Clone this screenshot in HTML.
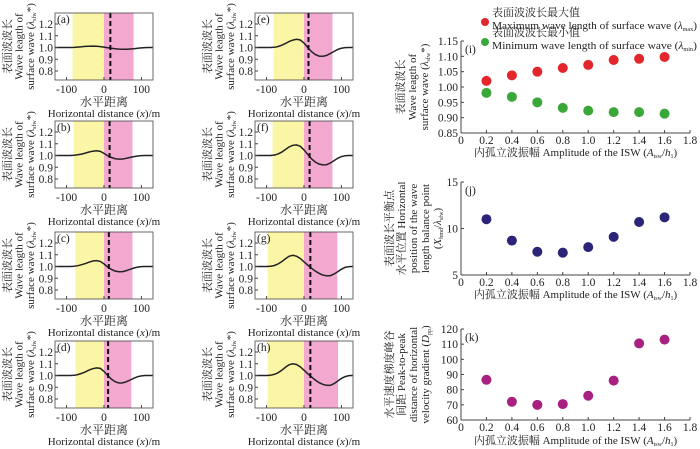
<!DOCTYPE html>
<html><head><meta charset="utf-8"><style>
html,body{margin:0;padding:0;background:#fff}
svg{display:block}
text{font-family:"Liberation Serif","Noto Serif CJK SC",serif;fill:#222}
</style></head><body>
<svg id="fig" width="700" height="449" viewBox="0 0 700 449" xmlns="http://www.w3.org/2000/svg" font-family="Liberation Serif, Noto Serif CJK SC, serif">
</svg>
<script>
const xSamples=[-140,-130,-120,-110,-100,-90,-80,-70,-60,-50,-40,-30,-20,-10,0,10,20,30,40,50,60,70,80,90,100,110,120,130,140];
const curveA=[1,1,1,1,1,1,1.001,1.003,1.006,1.009,1.011,1.012,1.011,1.008,1.003,0.998,0.993,0.989,0.986,0.985,0.985,0.987,0.99,0.994,0.997,0.999,1,1,1];
const curveB=[1,1,1,1,1,1,1.002,1.006,1.012,1.02,1.03,1.037,1.04,1.035,1.018,0.998,0.983,0.973,0.969,0.97,0.976,0.984,0.991,0.996,0.999,1,1,1,1];
const curveC=[1,1,1,1,1,1,1.002,1.007,1.015,1.025,1.037,1.047,1.05,1.043,1.022,0.995,0.975,0.961,0.955,0.957,0.965,0.976,0.987,0.995,0.999,1,1,1,1];
const curveD=[1,1,1,1,1,1,1.002,1.008,1.018,1.031,1.046,1.058,1.065,1.06,1.035,1.0,0.968,0.947,0.936,0.937,0.947,0.962,0.977,0.99,0.997,1,1,1,1];
const curveE=[1,1,1,1,1,1,1.002,1.008,1.019,1.033,1.05,1.063,1.07,1.064,1.038,1.0,0.965,0.94,0.927,0.925,0.932,0.948,0.966,0.983,0.994,0.999,1,1,1];
const curveF=[1,1,1,1,1,1,1.003,1.012,1.028,1.05,1.072,1.087,1.09,1.078,1.048,1.01,0.972,0.945,0.928,0.92,0.921,0.935,0.955,0.976,0.991,0.998,1,1,1];
const curveG=[1,1,1,1,1,1.002,1.008,1.02,1.04,1.065,1.087,1.095,1.088,1.068,1.04,1.012,0.985,0.962,0.942,0.928,0.921,0.922,0.935,0.955,0.977,0.992,0.999,1,1];
const curveH=[1,1,1,1,1,1.002,1.009,1.022,1.043,1.069,1.091,1.1,1.094,1.074,1.045,1.015,0.988,0.962,0.94,0.925,0.917,0.916,0.93,0.952,0.975,0.991,0.999,1,1];
const panelLetters=['a','b','c','d','e','f','g','h'];
const yellowStart=[-84,-81,-76,-76,-81,-84,-97,-97];
const pinkEnd=[79,76,76,73,76,76,89,91];
const dashX=[17,15,13,11,12,15,17,17];
const yTicksL=[1.2,1.1,1.0,0.9,0.8];
const xTicksL=[-100,0,100];
const ampX=[0.2,0.4,0.6,0.8,1.0,1.2,1.4,1.6];
const maxLen=[1.02,1.038,1.05,1.062,1.072,1.088,1.092,1.098];
const minLen=[0.981,0.968,0.95,0.932,0.923,0.918,0.918,0.913];
const balance=[11,8.7,7.5,7.4,8,9.1,10.7,11.2];
const peakDist=[86.5,72,70,70.5,76,86,110.5,113];
const xTicksR=[0,0.2,0.4,0.6,0.8,1.0,1.2,1.4,1.6,1.8];
const yTicksI=[0.85,0.90,0.95,1.00,1.05,1.10,1.15];
const yTicksJ=[5,10,15];
const yTicksK=[60,70,80,90,100,110,120];

const svg=document.getElementById('fig');
const NS='http://www.w3.org/2000/svg';
const FF='Liberation Serif, Noto Serif CJK SC, serif';
function mk(tag,attrs,parent,name){const e=document.createElementNS(NS,tag);for(const k in attrs)e.setAttribute(k,attrs[k]);


(parent||svg).appendChild(e);return e;}
function txt(s,x,y,parent,name,extra){const t=mk('text',Object.assign({x:x,y:y,'font-size':11.5,'font-family':FF},extra||{}),parent,name);t.innerHTML=s;return t;}

const curves=[curveA,curveB,curveC,curveD,curveE,curveF,curveG,curveH];
const colX=[55,255];
const tops=[13,121,232,341];
const W=98,H=67;
curves.forEach((cv,i)=>{
  const x0=colX[Math.floor(i/4)],top=tops[i%4];
  const g=mk('g',{},svg,'panel-'+panelLetters[i]);
  const sx=v=>x0+(v+131)/262*W;
  const sy=v=>top+11+(1.2-v)*117.5;
  mk('rect',{x:sx(yellowStart[i]),y:top,width:sx(0)-sx(yellowStart[i]),height:H,fill:'#fbf5a6'},g,'yellow-region');
  mk('rect',{x:sx(0),y:top,width:sx(pinkEnd[i])-sx(0),height:H,fill:'#f3a8cf'},g,'pink-region');
  let d='';xSamples.forEach((xv,j)=>{const px=sx(xv);if(px<x0||px>x0+W)return;d+=(d?'L':'M')+px.toFixed(1)+','+sy(cv[j]).toFixed(1);});
  mk('path',{d:d,fill:'none',stroke:'#222','stroke-width':1.5},g,'wave-curve');
  mk('line',{x1:sx(dashX[i]),x2:sx(dashX[i]),y1:top,y2:top+H,stroke:'#111','stroke-width':2,'stroke-dasharray':'5,3'},g,'dashed-line');
  mk('rect',{x:x0,y:top,width:W,height:H,fill:'none',stroke:'#444','stroke-width':0.8},g,'plot-frame');
  yTicksL.forEach(t=>{txt(t.toFixed(1),x0-2,sy(t)+4,g,'y-tick-label',{'text-anchor':'end'});mk('line',{x1:x0,x2:x0+3,y1:sy(t),y2:sy(t),stroke:'#444'},g,'y-tick');});
  xTicksL.forEach(t=>{txt(t,sx(t),top+H+13,g,'x-tick-label',{'text-anchor':'middle'});mk('line',{x1:sx(t),x2:sx(t),y1:top+H,y2:top+H-3,stroke:'#444'},g,'x-tick');});
  txt('('+panelLetters[i]+')',x0+2,top+10,g,'panel-label');
  txt('水平距离',x0+W/2,top+H+26,g,'x-axis-title-cn',{'text-anchor':'middle','font-size':12});
  txt('Horizontal distance (<tspan font-style="italic">x</tspan>)/m',x0+W/2,top+H+37,g,'x-axis-title',{'text-anchor':'middle','font-size':11});
  const cy=top+H/2, bx=x0-44;
  const lines=['表面波波长','Wave leagth of','surface wave (<tspan font-style="italic">λ</tspan><tspan font-size="6" dy="2">sfw</tspan><tspan dy="-2">*)</tspan>'];
  lines.forEach((s,k)=>txt(s,0,0,g,'y-axis-title',{'text-anchor':'middle','font-size':11,transform:'translate('+(bx+k*11.5)+','+cy+') rotate(-90)'}));
});

function rightPanel(name,top,bottom,ymin,ymax,yt,fmt,series,colors,titleLines,titleX,letter,titleY){
  const g=mk('g',{},svg,name);
  const x0=461,x1=690;
  const sx=v=>x0+v/1.8*(x1-x0);
  const sy=v=>bottom-(v-ymin)/(ymax-ymin)*(bottom-top);
  mk('line',{x1:x0,x2:x0,y1:top,y2:bottom,stroke:'#444'},g,'y-axis-line');
  mk('line',{x1:x0,x2:x1,y1:bottom,y2:bottom,stroke:'#444'},g,'x-axis-line');
  yt.forEach(t=>{txt(fmt(t),x0-3,sy(t)+4,g,'y-tick-label',{'text-anchor':'end'});mk('line',{x1:x0,x2:x0+3,y1:sy(t),y2:sy(t),stroke:'#444'},g,'y-tick');});
  xTicksR.forEach(t=>{txt(t===0?'0':t.toFixed(1),sx(t),bottom+11,g,'x-tick-label',{'text-anchor':'middle'});mk('line',{x1:sx(t),x2:sx(t),y1:bottom,y2:bottom-3,stroke:'#444'},g,'x-tick');});
  series.forEach((s,si)=>s.forEach((v,k)=>mk('circle',{cx:sx(ampX[k]),cy:sy(v),r:5,fill:colors[si]},g,'data-point')));
  txt('('+letter+')',x0+4,top+12,g,'panel-label');
  txt('内孤立波振幅 Amplitude of the ISW (<tspan font-style="italic">A</tspan><tspan font-size="6" dy="2">isw</tspan><tspan dy="-2">/</tspan><tspan font-style="italic">h</tspan><tspan font-size="6" dy="2">1</tspan><tspan dy="-2">)</tspan>',(x0+x1)/2,titleY,g,'x-axis-title',{'text-anchor':'middle','font-size':11});
  const cy=(top+bottom)/2;
  titleLines.forEach((s,k)=>txt(s,0,0,g,'y-axis-title',{'text-anchor':'middle','font-size':11,transform:'translate('+(titleX+k*12)+','+cy+') rotate(-90)'}));
}
rightPanel('panel-i',41,133,0.85,1.15,yTicksI,v=>v.toFixed(2),[maxLen,minLen],['#e3262b','#3aa838'],
 ['表面波波长','Wave leagth of','surface wave (<tspan font-style="italic">λ</tspan><tspan font-size="6" dy="2">sfw</tspan><tspan dy="-2">*)</tspan>'],404,'i',156);
rightPanel('panel-j',182,275,5,15,yTicksJ,v=>String(v),[balance],['#2c2478'],
 ['表面波长平衡点','水平位置 Horizontal','position of the wave','length balance point','(<tspan font-style="italic">X</tspan><tspan font-size="6" dy="2">bmd</tspan><tspan dy="-2">/</tspan><tspan font-style="italic">λ</tspan><tspan font-size="6" dy="2">sfw</tspan><tspan dy="-2">)</tspan>'],393,'j',298);
rightPanel('panel-k',329,420,60,120,yTicksK,v=>String(v),[peakDist],['#a82080'],
 ['水平速度梯度峰谷','间距 Peak-to-peak','distance of horizontal','velocity gradient (<tspan font-style="italic">D</tspan><tspan font-size="6" dy="2">pp</tspan><tspan dy="-2">)</tspan>'],393,'k',444);

const lg=mk('g',{},svg,'legend');
mk('circle',{cx:485,cy:22,r:4,fill:'#e3262b'},lg,'legend-marker-max');
txt('表面波波长最大值',492,16,lg,'legend-label-max-cn',{'font-size':11});
txt('Maximum wave length of surface wave (<tspan font-style="italic">λ</tspan><tspan font-size="6" dy="2">max</tspan><tspan dy="-2">)</tspan>',492,29,lg,'legend-label-max',{'font-size':11,textLength:205,lengthAdjust:'spacingAndGlyphs'});
mk('circle',{cx:485,cy:42,r:4,fill:'#3aa838'},lg,'legend-marker-min');
txt('表面波波长最小值',492,36,lg,'legend-label-min-cn',{'font-size':11});
txt('Minimum wave length of surface wave (<tspan font-style="italic">λ</tspan><tspan font-size="6" dy="2">min</tspan><tspan dy="-2">)</tspan>',492,49,lg,'legend-label-min',{'font-size':11,textLength:205,lengthAdjust:'spacingAndGlyphs'});
</script>
</body></html>
